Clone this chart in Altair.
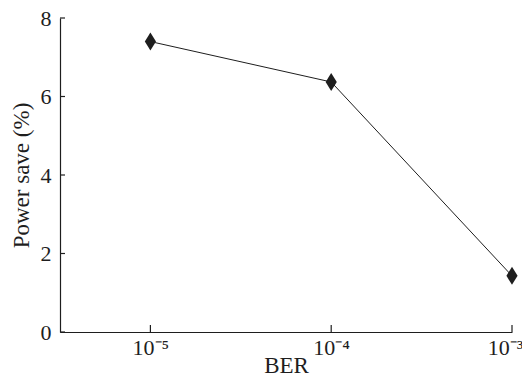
import altair as alt
import pandas as pd

# Data
ber = [1e-5, 1e-4, 1e-3]
power_save = [7.4, 6.37, 1.43]
y_tick_values = [0, 2, 4, 6, 8]
x_tick_values = [1e-5, 1e-4, 1e-3]

df = pd.DataFrame({"BER": ber, "save": power_save})
W, H = 452, 314
FONT = "Liberation Serif"
INK = "#1e1e1e"

xscale = alt.Scale(type="log", domain=[10 ** -5.5, 1e-3], nice=False)
yscale = alt.Scale(domain=[0, 8], nice=False, zero=True)

label_expr = ("'10\u207b' + (round(log(datum.value)/LN10) == -5 ? '\u2075' : "
              "(round(log(datum.value)/LN10) == -4 ? '\u2074' : '\u00b3'))")

diamond = "M0,-1L0.62,0L0,1L-0.62,0Z"

axis_style = dict(
    domainColor=INK, domainWidth=1.2, ticks=False, grid=False,
    labelFont=FONT, titleFont=FONT, titleFontSize=23,
    titleFontWeight="normal", labelColor=INK, titleColor=INK,
)

line = alt.Chart(df).mark_line(color=INK, strokeWidth=1).encode(
    x=alt.X("BER:Q", scale=xscale,
            axis=alt.Axis(values=x_tick_values, labelExpr=label_expr,
                          title="BER", labelPadding=5, titlePadding=-4,
                          labelFlush=False, labelFontSize=22,
                          labelOffset={"condition": {"test": "datum.value > 5e-4", "value": -7},
                                       "value": 0},
                          **axis_style)),
    y=alt.Y("save:Q", scale=yscale,
            axis=alt.Axis(values=y_tick_values, title="Power save (%)",
                          labelPadding=9, titlePadding=7, labelFontSize=22,
                          **axis_style)),
)

points = alt.Chart(df).mark_point(shape=diamond, filled=True, size=324,
                                  color=INK, opacity=1).encode(
    x=alt.X("BER:Q", scale=xscale),
    y=alt.Y("save:Q", scale=yscale),
)

ytick = alt.Chart(pd.DataFrame({"save": y_tick_values})).mark_rule(
    color=INK, strokeWidth=1.2).encode(
    y=alt.Y("save:Q", scale=yscale),
    x=alt.value(0), x2=alt.value(5),
)

xtick = alt.Chart(pd.DataFrame({"BER": x_tick_values})).mark_rule(
    color=INK, strokeWidth=1.2).encode(
    x=alt.X("BER:Q", scale=xscale),
    y=alt.value(H), y2=alt.value(H - 7),
)

chart = alt.layer(line, points, ytick, xtick).properties(
    width=W, height=H,
    autosize=alt.AutoSizeParams(type="none"),
    padding={"left": 52, "top": 10, "right": 10, "bottom": 43},
).configure_view(stroke=None)

chart.save("out.html", embed_options={"renderer": "svg", "actions": False})
